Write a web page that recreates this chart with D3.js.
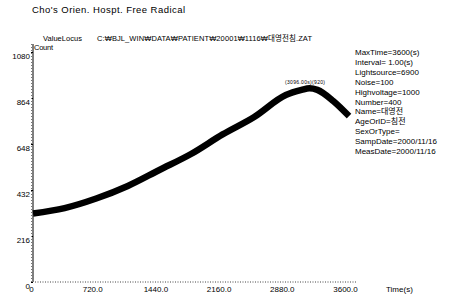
<!DOCTYPE html>
<html>
<head>
<meta charset="utf-8">
<script src="https://cdn.jsdelivr.net/npm/d3@7"></script>
<style>
  body { margin: 0; background: #fff; }
  svg { display: block; }
  text { font-family: "Liberation Sans", "Noto Sans CJK KR", sans-serif; fill: #000; }
</style>
</head>
<body>
<div id="chart"></div>
<script>
// Data
const times = [0, 360, 720, 1080, 1440, 1800, 2160, 2520, 2880, 3060, 3150, 3240, 3420, 3600]
const counts = [322, 347, 392, 451, 526, 601, 693, 775, 878, 902, 910, 902, 850, 779]
const xTicks = [0, 720, 1440, 2160, 2880, 3600]
const yTicks = [0, 216, 432, 648, 864, 1080]
const infoLines = [
  'MaxTime=3600(s)',
  'Interval=  1.00(s)',
  'Lightsource=6900',
  'Noise=100',
  'Highvoltage=1000',
  'Number=400',
  'Name=대영전',
  'AgeOrID=침전',
  'SexOrType=',
  'SampDate=2000/11/16',
  'MeasDate=2000/11/16'
]
const peakLabel = '(3096.00s)(920)'

// Initialization
const width = 451
const height = 295
const svg = d3.select('#chart').append('svg')
  .attr('width', width)
  .attr('height', height)

const x = d3.scaleLinear().domain([0, 3600]).range([33, 349])
const y = d3.scaleLinear().domain([0, 1080]).range([282, 52])

// Header texts
svg.append('text')
  .attr('x', 32).attr('y', 13)
  .attr('textLength', 153)
  .style('font-size', '9.5px')
  .text("Cho's Orien. Hospt. Free Radical")

svg.append('text')
  .attr('x', 43).attr('y', 41)
  .attr('textLength', 39)
  .style('font-size', '7.5px')
  .text('ValueLocus')

svg.append('text')
  .attr('x', 97).attr('y', 41)
  .attr('textLength', 215)
  .style('font-size', '7.5px')
  .text('C:₩BJL_WIN₩DATA₩PATIENT₩20001₩1116₩대영전침.ZAT')

svg.append('text')
  .attr('x', 34).attr('y', 50)
  .attr('textLength', 19)
  .style('font-size', '7.5px')
  .text('Count')

// Y axis
const yAxis = svg.append('g')
  .attr('transform', `translate(${x(0)},0)`)
  .call(d3.axisLeft(y).tickValues(yTicks).tickSize(2).tickSizeOuter(0)
    .tickFormat(d3.format('d')))
yAxis.select('.domain').remove()
yAxis.selectAll('line').attr('stroke', '#000')
yAxis.selectAll('text')
  .attr('x', -3)
  .attr('dy', '0.85em')
  .style('font-size', '8px')
  .style('font-family', '"Liberation Sans", sans-serif')

svg.append('line')
  .attr('x1', x(0)).attr('x2', x(0))
  .attr('y1', y(0)).attr('y2', y(1080) - 8)
  .attr('stroke', '#000')
svg.append('line')
  .attr('x1', x(0) - 1.5).attr('x2', x(0) - 1.5)
  .attr('y1', y(0)).attr('y2', y(1080) - 8)
  .attr('stroke', '#777')
  .attr('stroke-dasharray', '1,2')

// X axis
const xAxis = svg.append('g')
  .attr('transform', `translate(0,${y(0)})`)
  .call(d3.axisBottom(x).tickValues(xTicks).tickSize(0)
    .tickFormat(d => d === 0 ? '0' : d3.format('.1f')(d)))
xAxis.select('.domain').remove()
xAxis.selectAll('text')
  .attr('x', d => d === 0 ? -2 : -4)
  .attr('y', 4)
  .style('font-size', '8px')
  .style('font-family', '"Liberation Sans", sans-serif')

svg.append('line')
  .attr('x1', x(0) + 2).attr('x2', x(3600) + 7)
  .attr('y1', y(0)).attr('y2', y(0))
  .attr('stroke', '#444')
  .attr('stroke-dasharray', '1,1.5')

svg.append('text')
  .attr('x', 386).attr('y', 292)
  .style('font-size', '8px')
  .text('Time(s)')

// Data band
const line = d3.line()
  .x((d, i) => x(times[i]))
  .y(d => y(d))
  .curve(d3.curveMonotoneX)

svg.append('path')
  .datum(counts)
  .attr('d', line)
  .attr('fill', 'none')
  .attr('stroke', '#000')
  .attr('stroke-width', 6.5)

svg.append('text')
  .attr('x', 305).attr('y', 84)
  .attr('text-anchor', 'middle')
  .attr('textLength', 40)
  .style('font-size', '5px')
  .text(peakLabel)

// Info panel
svg.append('g')
  .selectAll('text')
  .data(infoLines)
  .enter()
  .append('text')
  .attr('x', 355)
  .attr('y', (_, i) => 55 + i * 9.9)
  .style('font-size', '8px')
  .text(d => d)
</script>
</body>
</html>
